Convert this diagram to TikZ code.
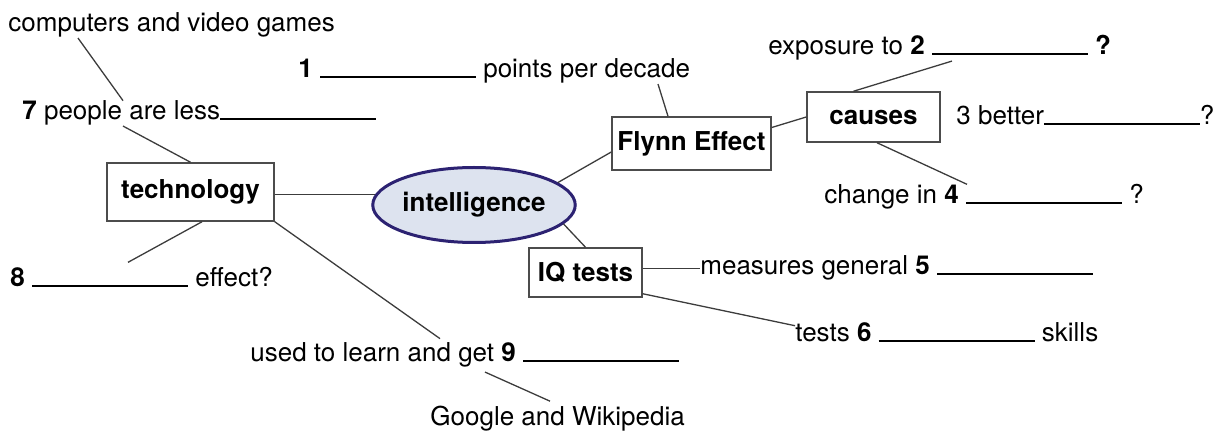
\documentclass[tikz,border=0pt]{standalone}
\usepackage{fontspec}
\setmainfont{TeX Gyre Heros}
\usetikzlibrary{shapes.geometric}
\definecolor{ovalfill}{HTML}{DDE3EF}
\definecolor{ovalline}{HTML}{2C2272}
\definecolor{linkgray}{HTML}{3C3C3C}
\newcommand{\blankline}{\rule{78pt}{0.9pt}}
\tikzset{
    every node/.style={font=\fontsize{13}{15}\selectfont, inner sep=0pt}, % same size of text everywhere
    topic/.style={draw=black!70, line width=0.75pt, font=\fontsize{13}{15}\selectfont\bfseries}, % the boxed subtopics
    centre/.style={ellipse, draw=ovalline, fill=ovalfill, line width=1.5pt, font=\fontsize{13}{15}\selectfont\bfseries}, % the main topic
    note/.style={anchor=base west}, % free text, placed by its baseline
    link/.style={draw=linkgray, line width=0.65pt}, % the thin connecting lines
    }

\begin{document}
\begin{tikzpicture}[x=0.5pt, y=-0.5pt]
\useasboundingbox (0,0) rectangle (1231,432);

\node[centre, minimum width=93pt, minimum height=37.5pt] (intel) at (474,205) {intelligence};
\node[topic, minimum width=83.5pt, minimum height=29pt] (tech) at (190.5,192) {technology};
\node[topic, minimum width=79.5pt, minimum height=26.5pt] (flynn) at (691.5,143.5) {Flynn Effect};
\node[topic, minimum width=66.5pt, minimum height=25pt] (causes) at (873.5,117) {causes};
\node[topic, minimum width=56.5pt, minimum height=24.5pt] (iq) at (585.5,272.5) {IQ tests};

\node[note] (comp) at (8,32) {computers and video games};
\node[note] (less) at (22,120) {\textbf{7} people are less\blankline};
\node[note] (one) at (298,78) {\textbf{1} \blankline{} points per decade};
\node[note] (expo) at (768,55) {exposure to \textbf{2} \blankline{} \textbf{?}};
\node[note] (better) at (956,125) {3 better\blankline?};
\node[note] (change) at (824,204) {change in \textbf{4} \blankline{} ?};
\node[note] (meas) at (700,275) {measures general \textbf{5} \blankline};
\node[note] (tests) at (795,342) {tests \textbf{6} \blankline{} skills};
\node[note] (eight) at (10,287) {\textbf{8} \blankline{} effect?};
\node[note] (used) at (250,362) {used to learn and get \textbf{9} \blankline};
\node[note] (google) at (430,425) {Google and Wikipedia};

\draw[link] ([xshift=35pt]comp.south west) edge ([xshift=50.5pt]less.north west)
(tech.north) edge ([xshift=50.5pt]less.south west)
(tech.east |- intel.174) edge (intel.174)
([xshift=5.75pt]tech.south) edge ([xshift=59pt, yshift=2.5pt]eight.north west)
(tech.south east) edge ([xshift=95pt, yshift=2pt]used.north west)
([xshift=117.5pt, yshift=-2pt]used.south west) edge ([xshift=60pt, yshift=2pt]google.north west)
(intel.15) edge ([yshift=-4.25pt]flynn.west)
([xshift=-11.75pt]flynn.north) edge ([xshift=180pt]one.south west)
([yshift=8pt]flynn.east) edge (causes.west)
([xshift=-10pt]causes.north) edge ([xshift=92pt]expo.south west)
([xshift=1.75pt]causes.south) edge ([xshift=71.5pt]change.north west)
(intel.-12) edge (iq.north)
(iq.east |- meas.west) edge (meas.west)
([yshift=2pt]iq.south east) edge ([yshift=3.5pt]tests.west);
\end{tikzpicture}
\end{document}
